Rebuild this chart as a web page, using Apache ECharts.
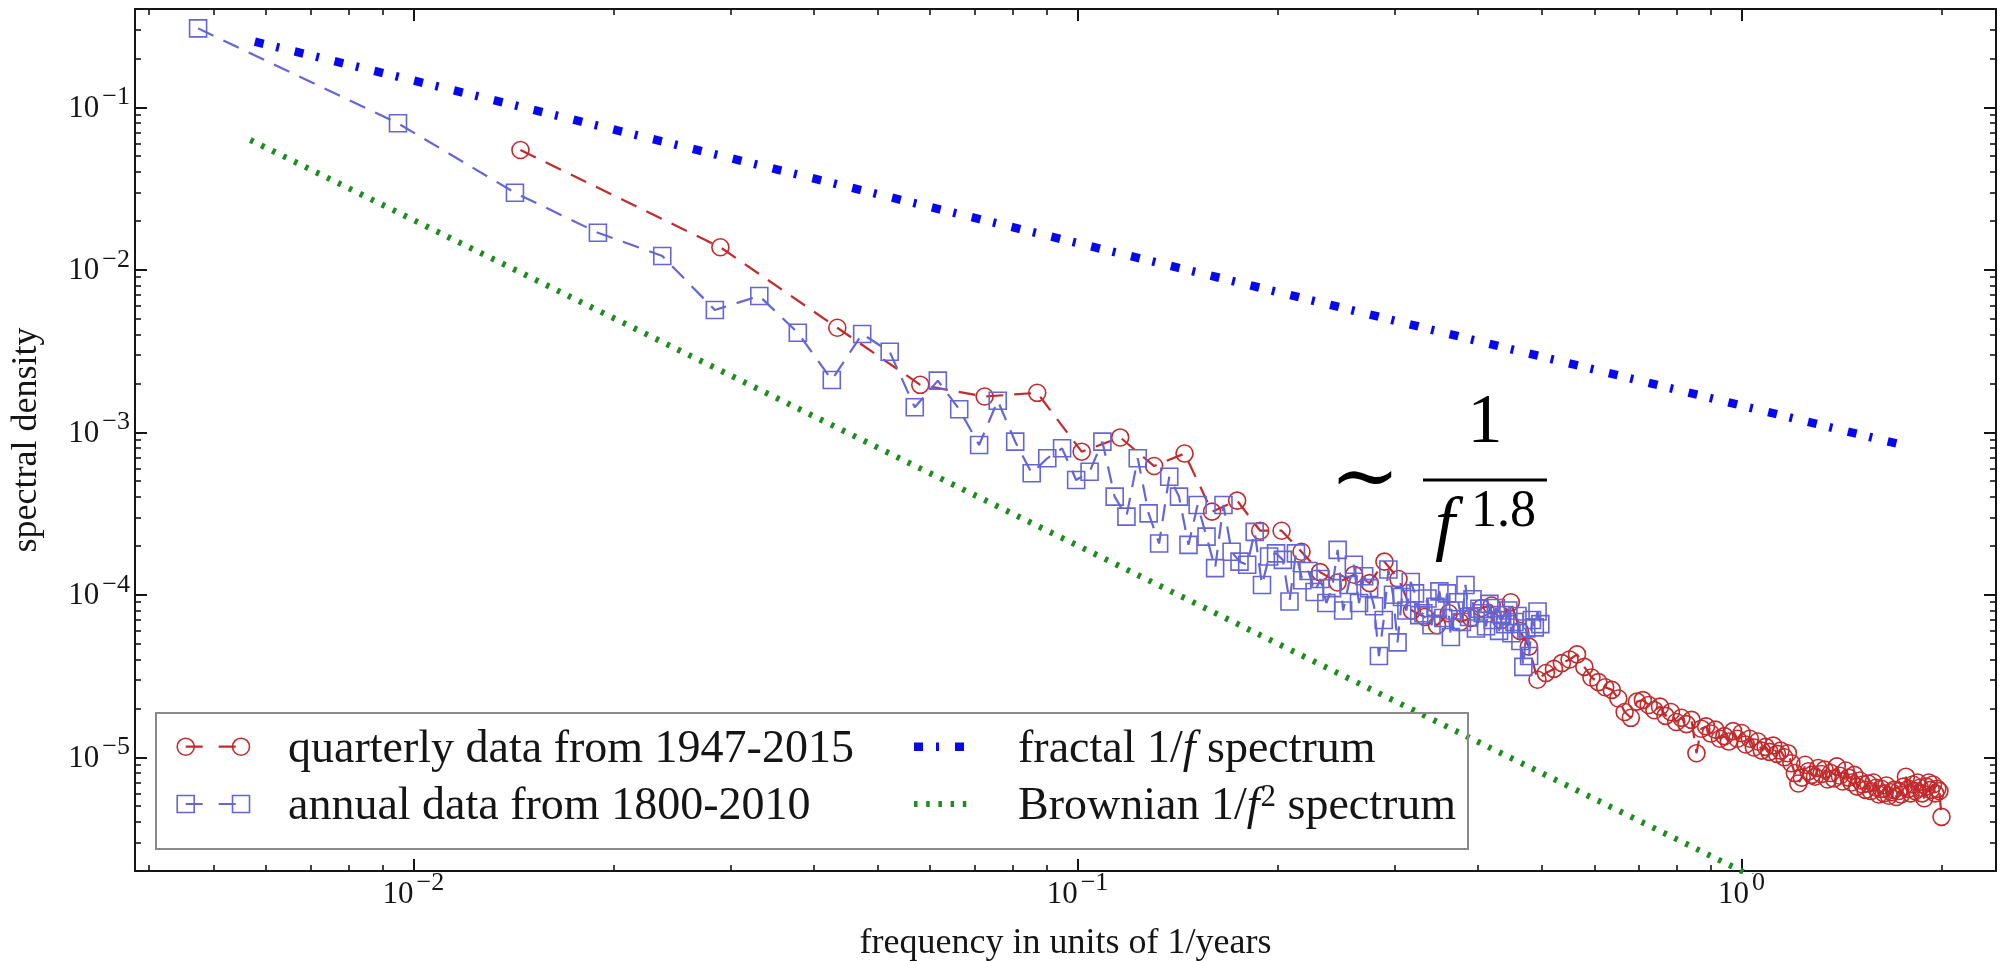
<!DOCTYPE html>
<html>
<head>
<meta charset="utf-8">
<script src="https://cdn.jsdelivr.net/npm/echarts@6/dist/echarts.min.js"></script>
<style>
  html, body { margin: 0; padding: 0; background: #fff; }
  #chart { width: 2007px; height: 961px; }
</style>
</head>
<body>
<div id="chart"></div>
<script>
const SERIF = "'Liberation Serif', 'DejaVu Serif', serif";
const RED = '#c22a2c';
const VIOLET = '#6565d6';
const BLUE = '#0808ee';
const GREEN = '#1f8c1f';
const INK = '#151515';

// Quarterly record 1947-2015: 69 years, spectral lines at k/69 per year (k = 1..138)
const quarterlyYears = 69;
const quarterlyDensity = [
  0.0546, 0.01376, 0.0044, 0.00196, 0.00166, 0.00175, 0.00076, 0.00093, 0.00062, 0.00074,
  0.000325, 0.00038, 0.000248, 0.000248, 0.000184, 0.000138, 0.000119, 0.000133, 0.000118, 0.00016,
  0.000125, 8.0e-5, 7.3e-5, 6.5e-5, 7.7e-5, 6.8e-5, 7.2e-5, 8.3e-5, 8.6e-5, 7.0e-5,
  9.0e-5, 6.0e-5, 4.8e-5, 3.0e-5, 3.3e-5, 3.5e-5, 3.8e-5, 4.0e-5, 4.3e-5, 3.6e-5,
  3.1e-5, 2.9e-5, 2.7e-5, 2.6e-5, 2.3e-5, 1.9e-5, 1.75e-5, 2.2e-5, 2.25e-5, 2.1e-5,
  1.95e-5, 2.05e-5, 1.8e-5, 1.9e-5, 1.65e-5, 1.75e-5, 1.6e-5, 1.7e-5, 1.06e-5, 1.5e-5,
  1.55e-5, 1.4e-5, 1.48e-5, 1.3e-5, 1.35e-5, 1.25e-5, 1.45e-5, 1.3e-5, 1.41e-5, 1.2e-5,
  1.3e-5, 1.15e-5, 1.25e-5, 1.1e-5, 1.16e-5, 1.08e-5, 1.18e-5, 1.05e-5, 1.1e-5, 1.0e-5,
  1.06e-5, 9.2e-6, 8.0e-6, 6.9e-6, 7.5e-6, 9.0e-6, 8.2e-6, 7.8e-6, 7.6e-6, 8.6e-6,
  7.9e-6, 8.4e-6, 7.3e-6, 8.0e-6, 7.4e-6, 8.8e-6, 7.7e-6, 7.1e-6, 8.3e-6, 7.5e-6,
  7.0e-6, 7.8e-6, 6.6e-6, 7.2e-6, 6.8e-6, 6.3e-6, 6.9e-6, 6.2e-6, 7.0e-6, 6.5e-6,
  5.9e-6, 6.4e-6, 6.0e-6, 6.7e-6, 5.8e-6, 6.1e-6, 6.3e-6, 5.7e-6, 6.2e-6, 5.9e-6,
  6.6e-6, 7.6e-6, 6.4e-6, 6.0e-6, 6.8e-6, 6.2e-6, 7.0e-6, 6.5e-6, 6.0e-6, 5.6e-6,
  6.6e-6, 7.0e-6, 6.3e-6, 6.8e-6, 6.0e-6, 6.4e-6, 6.2e-6, 4.3e-6
];

// Annual record 1800-2010: 211 years, spectral lines at k/211 per year (k = 1..105)
const annualYears = 211;
const annualDensity = [
  0.306, 0.0797, 0.0298, 0.0169, 0.01216, 0.00566, 0.0069, 0.0041, 0.0021, 0.00403,
  0.00313, 0.001426, 0.00208, 0.001385, 0.000836, 0.001565, 0.000876, 0.00056, 0.000692, 0.000797,
  0.000509, 0.000572, 0.000876, 0.000402, 0.000303, 0.000692, 0.000317, 0.000207, 0.000533, 0.000402,
  0.000203, 0.000357, 0.000228, 0.000146, 0.000357, 0.000184, 0.00016, 0.000153, 0.000244, 0.000115,
  0.000172, 0.00018, 0.000164, 9.1e-5, 1.8e-4, 1.23e-4, 1.4e-4, 1.04e-4, 1.25e-4, 8.9e-5,
  1.1e-4, 1.89e-4, 8.0e-5, 1.15e-4, 1.53e-4, 8.9e-5, 1.3e-4, 1.1e-4, 8.5e-5, 4.2e-5,
  7.0e-5, 1.43e-4, 1.0e-4, 5.1e-5, 9.7e-5, 8.0e-5, 1.2e-4, 1.02e-4, 7.5e-5, 7.7e-5,
  9.5e-5, 6.5e-5, 8.45e-5, 1.05e-4, 7.2e-5, 1.02e-4, 5.5e-5, 8.0e-5, 9.0e-5, 6.8e-5,
  1.15e-4, 7.3e-5, 9.4e-5, 6.2e-5, 8.2e-5, 7.7e-5, 6.4e-5, 8.8e-5, 7.0e-5, 8.3e-5,
  6.0e-5, 7.5e-5, 6.6e-5, 8.0e-5, 5.8e-5, 6.8e-5, 7.4e-5, 5.2e-5, 3.6e-5, 6.2e-5,
  4.2e-5, 7.0e-5, 6.3e-5, 7.9e-5, 6.6e-5
];

// Reference power laws, end points as [frequency, density]
const fractalLine = [[0.00577, 0.2534], [1.76, 0.00083]];
const brownianLine = [[0.00568, 0.0629], [1.05, 1.81e-6]];

// Axis ranges and ticks
const xRange = [0.003808, 2.416];
const yRange = [1.997e-6, 0.4027];
const xMajorTicks = [0.01, 0.1, 1];
const xMinorTicks = [0.004, 0.005, 0.006, 0.007, 0.008, 0.009,
  0.02, 0.03, 0.04, 0.05, 0.06, 0.07, 0.08, 0.09,
  0.2, 0.3, 0.4, 0.5, 0.6, 0.7, 0.8, 0.9, 2];
const yMajorTicks = [1e-5, 1e-4, 1e-3, 1e-2, 1e-1];
const yMinorTicks = [3e-6, 4e-6, 5e-6, 6e-6, 7e-6, 8e-6, 9e-6,
  2e-5, 3e-5, 4e-5, 5e-5, 6e-5, 7e-5, 8e-5, 9e-5,
  2e-4, 3e-4, 4e-4, 5e-4, 6e-4, 7e-4, 8e-4, 9e-4,
  2e-3, 3e-3, 4e-3, 5e-3, 6e-3, 7e-3, 8e-3, 9e-3,
  2e-2, 3e-2, 4e-2, 5e-2, 6e-2, 7e-2, 8e-2, 9e-2,
  2e-1, 3e-1];

const toPairs = (density, years) => density.map((v, i) => [(i + 1) / years, v]);

const powerLabel = v => {
  const e = Math.round(Math.log10(v));
  return '{b|10}{s|' + (e < 0 ? '\u2212' + (-e) : String(e)) + '}';
};
const labelRich = {
  b: { fontSize: 31, fontFamily: SERIF, color: INK, lineHeight: 34, verticalAlign: 'bottom' },
  s: { fontSize: 26, fontFamily: SERIF, color: INK, lineHeight: 24, padding: [0, 0, 14, 3], verticalAlign: 'bottom' }
};

function logAxis(range, extra) {
  return Object.assign({
    type: 'log',
    min: range[0],
    max: range[1],
    splitLine: { show: false },
    axisPointer: { show: false },
    axisLine: { show: true, lineStyle: { color: INK, width: 2 } },
    axisLabel: { show: false },
    silent: true
  }, extra);
}
const majorTick = vals => ({ show: true, inside: true, length: 12, customValues: vals, lineStyle: { color: INK, width: 2 } });
const minorTick = vals => ({ show: true, inside: true, length: 6, customValues: vals, lineStyle: { color: INK, width: 1.6 } });

const xAxes = [
  logAxis(xRange, {
    position: 'bottom',
    axisTick: majorTick(xMajorTicks),
    axisLabel: { show: true, customValues: xMajorTicks, formatter: powerLabel, rich: labelRich, margin: 5 },
    name: 'frequency in units of 1/years',
    nameLocation: 'middle',
    nameGap: 55,
    nameTextStyle: { fontSize: 36, fontFamily: SERIF, color: INK, lineHeight: 36 }
  }),
  logAxis(xRange, { position: 'bottom', axisLine: { show: false }, axisTick: minorTick(xMinorTicks) }),
  logAxis(xRange, { position: 'top', axisTick: majorTick(xMajorTicks) }),
  logAxis(xRange, { position: 'top', axisLine: { show: false }, axisTick: minorTick(xMinorTicks) })
];
const yAxes = [
  logAxis(yRange, {
    position: 'left',
    axisTick: majorTick(yMajorTicks),
    axisLabel: { show: true, customValues: yMajorTicks, formatter: powerLabel, rich: labelRich, margin: 5 },
    name: 'spectral density',
    nameLocation: 'middle',
    nameGap: 90,
    nameRotate: 90,
    nameTextStyle: { fontSize: 36, fontFamily: SERIF, color: INK }
  }),
  logAxis(yRange, { position: 'left', axisLine: { show: false }, axisTick: minorTick(yMinorTicks) }),
  logAxis(yRange, { position: 'right', axisTick: majorTick(yMajorTicks) }),
  logAxis(yRange, { position: 'right', axisLine: { show: false }, axisTick: minorTick(yMinorTicks) })
];

const baseSeries = {
  type: 'line',
  xAxisIndex: 0,
  yAxisIndex: 0,
  silent: true,
  clip: true,
  animation: false,
  emphasis: { disabled: true }
};

const series = [
  Object.assign({}, baseSeries, {
    name: 'fractal 1/f spectrum',
    data: fractalLine,
    symbol: 'none',
    z: 2,
    lineStyle: { color: BLUE, width: 8.5, type: [9, 13, 3, 16], cap: 'butt' }
  }),
  Object.assign({}, baseSeries, {
    name: 'Brownian 1/f^2 spectrum',
    data: brownianLine,
    symbol: 'none',
    z: 2,
    lineStyle: { color: GREEN, width: 6, type: [3.5, 8.7], cap: 'butt' }
  }),
  Object.assign({}, baseSeries, {
    name: 'quarterly data from 1947-2015',
    data: toPairs(quarterlyDensity, quarterlyYears),
    symbol: 'circle',
    symbolSize: 17,
    z: 3,
    itemStyle: { color: 'rgba(0,0,0,0)', borderColor: RED, borderWidth: 1.6 },
    lineStyle: { color: RED, width: 2.2, type: [17, 11] }
  }),
  Object.assign({}, baseSeries, {
    name: 'annual data from 1800-2010',
    data: toPairs(annualDensity, annualYears),
    symbol: 'rect',
    symbolSize: 17,
    z: 4,
    itemStyle: { color: 'rgba(0,0,0,0)', borderColor: VIOLET, borderWidth: 1.6 },
    lineStyle: { color: VIOLET, width: 2.2, type: [17, 11] }
  })
];

// Legend box, drawn by hand so each entry shows the marker pair / line pattern
const LEG_FONT = 46;
const row1 = 746.7, row2 = 804;
const textTok = { fontSize: LEG_FONT, fontFamily: SERIF, fill: INK, lineHeight: 52, verticalAlign: 'bottom' };
const legendRich = {
  n: textTok,
  i: Object.assign({}, textTok, { fontStyle: 'italic' }),
  p: { fontSize: 31, fontFamily: SERIF, fill: INK, lineHeight: 31, padding: [0, 0, 17, 1], verticalAlign: 'bottom' }
};
const legendText = (x, y, text) => ({
  type: 'text', x: x, y: y, silent: true, z: 100,
  style: { text: text, rich: legendRich, align: 'left', verticalAlign: 'middle' }
});
const sq = (cx, cy, color) => ({
  type: 'rect', silent: true, z: 100,
  shape: { x: cx - 8.5, y: cy - 8.5, width: 17, height: 17 },
  style: { fill: 'none', stroke: color, lineWidth: 1.6 }
});
const ring = (cx, cy, color) => ({
  type: 'circle', silent: true, z: 100,
  shape: { cx: cx, cy: cy, r: 8.5 },
  style: { fill: 'none', stroke: color, lineWidth: 1.6 }
});
const seg = (x1, x2, y, style) => ({
  type: 'line', silent: true, z: 100,
  shape: { x1: x1, y1: y, x2: x2, y2: y },
  style: style
});

const graphic = [
  { type: 'rect', silent: true, z: 100,
    shape: { x: 156, y: 713, width: 1312, height: 136 },
    style: { fill: 'none', stroke: '#8a8a8a', lineWidth: 2 } },
  seg(185.7, 241, row1, { stroke: RED, lineWidth: 2.2, lineDash: [17, 16] }),
  ring(185.7, row1, RED), ring(241, row1, RED),
  legendText(288, row1, '{n|quarterly data from 1947-2015}'),
  seg(185.7, 241, row2, { stroke: VIOLET, lineWidth: 2.2, lineDash: [17, 16] }),
  sq(185.7, row2, VIOLET), sq(241, row2, VIOLET),
  legendText(288, row2, '{n|annual data from 1800-2010}'),
  seg(914, 966, row1, { stroke: BLUE, lineWidth: 8.5, lineDash: [9, 13, 3, 16] }),
  legendText(1018, row1, '{n|fractal 1/}{i|f}{n| spectrum}'),
  seg(914, 968, row2, { stroke: GREEN, lineWidth: 6, lineDash: [3.5, 8.7] }),
  legendText(1018, row2, '{n|Brownian 1/}{i|f}{p|2}{n| spectrum}'),

  // Power-law annotation  ~ 1 / f^1.8
  { type: 'text', x: 1365, y: 482, silent: true, z: 100,
    style: { text: '\u223C', fontSize: 84, fontFamily: "'DejaVu Serif', 'DejaVu Sans', serif", fill: '#000', align: 'center', verticalAlign: 'middle' } },
  { type: 'text', x: 1485, y: 424, silent: true, z: 100,
    style: { text: '1', fontSize: 70, fontFamily: SERIF, fill: '#000', align: 'center', verticalAlign: 'middle' } },
  { type: 'line', silent: true, z: 100,
    shape: { x1: 1423, y1: 480, x2: 1547, y2: 480 },
    style: { stroke: '#000', lineWidth: 3 } },
  { type: 'text', x: 1445, y: 528, silent: true, z: 100,
    style: { text: 'f', fontSize: 72, fontStyle: 'italic', fontFamily: SERIF, fill: '#000', align: 'center', verticalAlign: 'middle' } },
  { type: 'text', x: 1471, y: 512, silent: true, z: 100,
    style: { text: '1.8', fontSize: 52, fontFamily: SERIF, fill: '#000', align: 'left', verticalAlign: 'middle' } }
];

const chart = echarts.init(document.getElementById('chart'), null, { renderer: 'canvas' });
chart.setOption({
  animation: false,
  backgroundColor: '#ffffff',
  grid: { left: 135, right: 11, top: 9, bottom: 90, containLabel: false, outerBoundsMode: 'none' },
  xAxis: xAxes,
  yAxis: yAxes,
  series: series,
  graphic: graphic
});
</script>
</body>
</html>
